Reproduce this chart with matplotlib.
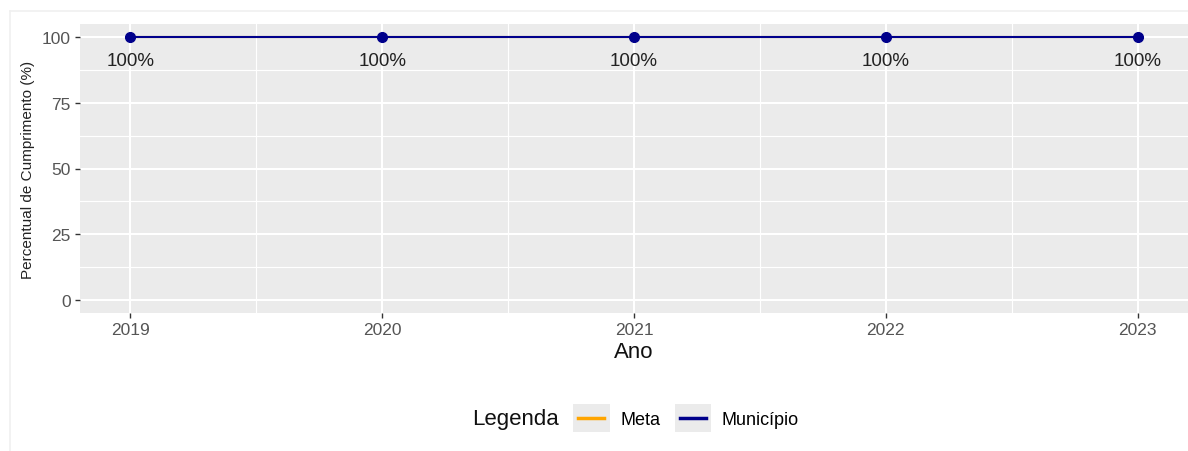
import matplotlib.pyplot as plt
from matplotlib.patches import Rectangle
from matplotlib.lines import Line2D
from matplotlib.legend_handler import HandlerBase
from matplotlib.ticker import MultipleLocator

plt.rcParams['font.family'] = ['Liberation Sans', 'DejaVu Sans']

anos = [2019, 2020, 2021, 2022, 2023]
municipio = [100, 100, 100, 100, 100]
meta = [100, 100, 100, 100, 100]
rotulos = ['100%', '100%', '100%', '100%', '100%']

COR_META = '#FFA500'
COR_MUN = '#00008B'
FUNDO = '#EBEBEB'


class ChaveGG(HandlerBase):
    '''Chave de legenda estilo ggplot: caixa cinza com linha curta no meio.'''
    def create_artists(self, legend, orig_handle, xdescent, ydescent,
                       width, height, fontsize, trans):
        caixa = Rectangle((-xdescent, -ydescent), width, height,
                          facecolor=FUNDO, edgecolor='none', transform=trans)
        m = 0.14 * width
        yc = -ydescent + height / 2
        linha = Line2D([-xdescent + m, -xdescent + width - m], [yc, yc],
                       color=orig_handle.get_color(), lw=2.5, transform=trans)
        return [caixa, linha]


fig = plt.figure(figsize=(11.88, 4.52), dpi=100)
ax = fig.add_axes([80 / 1188, 1 - 314 / 452, 1108 / 1188, 289 / 452])

# moldura clara em volta da figura
fig.add_artist(Line2D([10 / 1188, 1], [1 - 12 / 452] * 2, color='#F0F0F0', lw=1.2,
                      transform=fig.transFigure))
fig.add_artist(Line2D([10 / 1188] * 2, [0, 1 - 12 / 452], color='#F0F0F0', lw=1.2,
                      transform=fig.transFigure))

ax.set_facecolor(FUNDO)
l_meta, = ax.plot(anos, meta, color=COR_META, lw=1.5, zorder=3)
l_mun, = ax.plot(anos, municipio, color=COR_MUN, lw=1.5, zorder=4)
ax.plot(anos, municipio, 'o', color=COR_MUN, ms=7, zorder=5)
for x, y, t in zip(anos, municipio, rotulos):
    ax.annotate(t, (x, y), xytext=(0, -11), textcoords='offset points',
                ha='center', va='top', fontsize=13.5, color='#222222')

ax.set_xlim(2018.8, 2023.2)
ax.set_ylim(-5, 105)
ax.set_xticks(anos)
ax.set_yticks([0, 25, 50, 75, 100])
ax.xaxis.set_minor_locator(MultipleLocator(0.5))
ax.yaxis.set_minor_locator(MultipleLocator(12.5))
ax.grid(which='major', color='white', lw=1.5)
ax.grid(which='minor', color='white', lw=0.8)
ax.set_axisbelow(True)
for s in ax.spines.values():
    s.set_visible(False)
ax.tick_params(which='major', length=3.5, width=1, color='#333333',
               labelsize=12.5, labelcolor='#555555', pad=3)
ax.tick_params(which='minor', length=0)

ax.set_xlabel('Ano', fontsize=16, color='#111111', labelpad=3)
ax.set_ylabel('Percentual de Cumprimento (%)', fontsize=11, color='#222222', labelpad=5)

# legenda embaixo, titulo a esquerda
fig.text(472 / 1188, 1 - 419 / 452, 'Legenda', fontsize=16, ha='left', va='center',
         color='#111111')
fig.legend([l_meta, l_mun], ['Meta', 'Município'],
           handler_map={Line2D: ChaveGG()},
           loc='center left', bbox_to_anchor=(568 / 1188, 1 - 419 / 452),
           ncol=2, frameon=False, fontsize=13, handlelength=2.0, handleheight=2.0,
           handletextpad=0.6, columnspacing=0.8, borderaxespad=0, borderpad=0.3)

fig.savefig('out.png', dpi=100)
